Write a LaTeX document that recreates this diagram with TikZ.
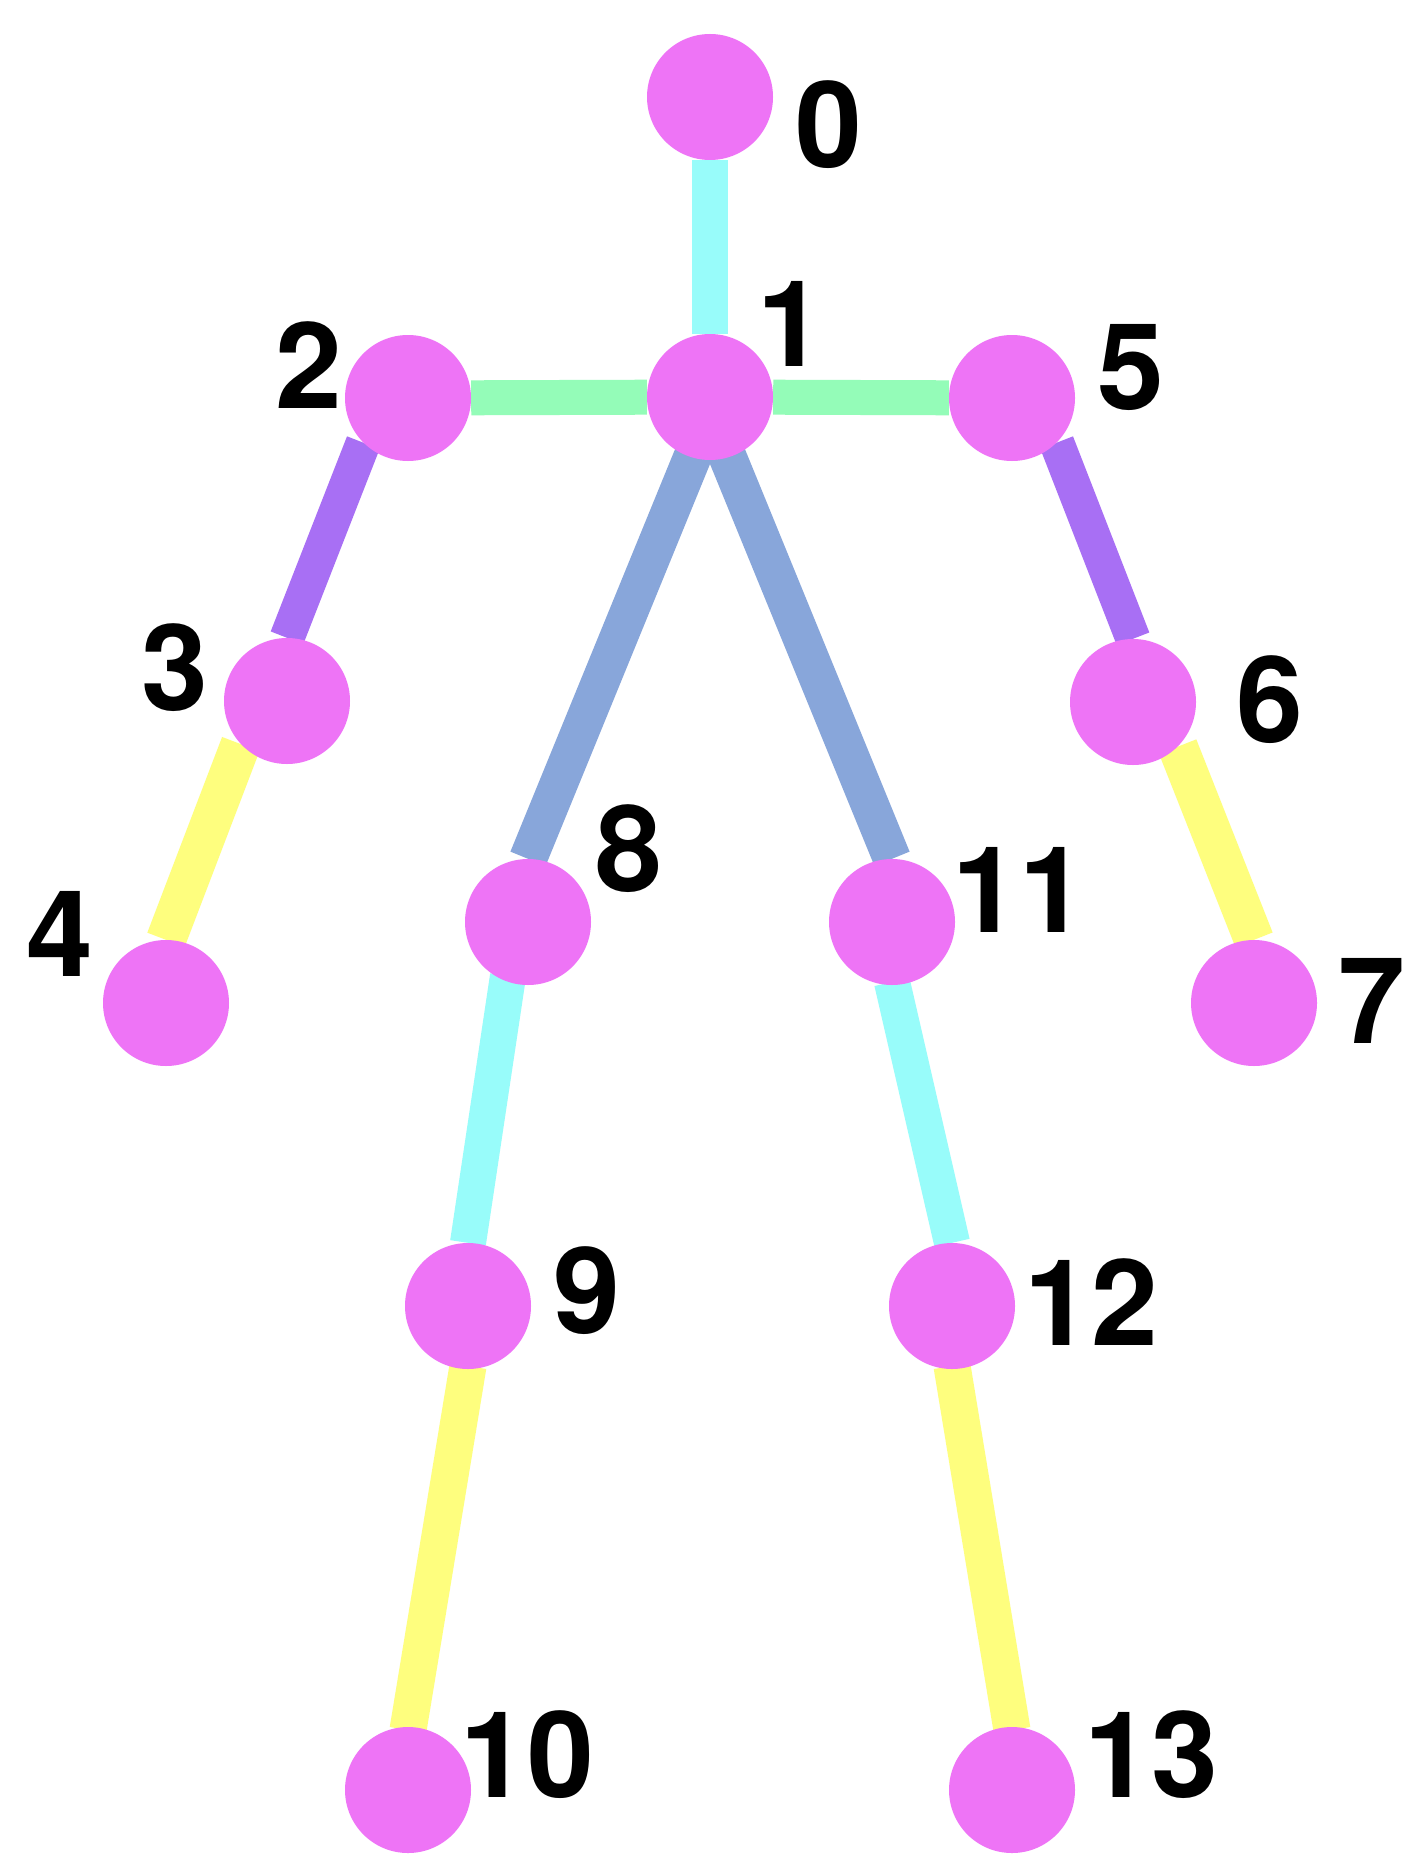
\documentclass[tikz,border=0pt]{standalone}
\usepackage{fontspec}
\setmainfont{TeX Gyre Heros}
\usetikzlibrary{calc}
\definecolor{jointc}{HTML}{EE74F6}
\definecolor{cyanc}{HTML}{98FCFA}
\definecolor{greenc}{HTML}{94FCB8}
\definecolor{purplec}{HTML}{A86FF4}
\definecolor{bluec}{HTML}{88A6DA}
\definecolor{yellowc}{HTML}{FEFE7E}
\pgfdeclarelayer{back}
\pgfdeclarelayer{bg}
\pgfsetlayers{back,bg,main}
\begin{document}
\begin{tikzpicture}[x=1pt,y=-1pt,
  joint/.style={circle,fill=jointc,minimum size=126pt,inner sep=0pt},
  lbl/.style={inner sep=0pt,font=\fontsize{120}{120}\selectfont\bfseries},
  bone/.style={line width=36pt,line cap=butt},
  bcyan/.style={bone,draw=cyanc},
  bgreen/.style={bone,draw=greenc,line width=35pt},
  bpurple/.style={bone,draw=purplec,line width=35pt},
  bblue/.style={bone,draw=bluec,line width=38pt},
  byellow/.style={bone,draw=yellowc,line width=37pt},
  byellowarm/.style={bone,draw=yellowc,line width=40pt}]
\begin{pgfonlayer}{back}
\fill[white] (0,0) rectangle (1415,1870);
\end{pgfonlayer}
\useasboundingbox (0,0) rectangle (1415,1870);
% joints
\node[joint] (n0) at (710,97) {};
\node[joint] (n1) at (710,397) {};
\node[joint] (n2) at (408,398) {};
\node[joint] (n5) at (1012,398) {};
\node[joint] (n3) at (287,701) {};
\node[joint] (n6) at (1133,702) {};
\node[joint] (n4) at (166,1003) {};
\node[joint] (n7) at (1254,1003) {};
\node[joint] (n8) at (528,922) {};
\node[joint] (n11) at (892,922) {};
\node[joint] (n9) at (468,1306) {};
\node[joint] (n12) at (952,1306) {};
\node[joint] (n10) at (408,1790) {};
\node[joint] (n13) at (1012,1790) {};
% labels
\node[lbl] (l0) at (829,125) {0};
\node[lbl] (l1) at (791,324) {1};
\node[lbl] (l2) at (309,365) {2};
\node[lbl] (l5) at (1131,367) {5};
\node[lbl] (l3) at (175,668) {3};
\node[lbl] (l6) at (1270,700) {6};
\node[lbl] (l4) at (60,934) {4};
\node[lbl] (l7) at (1372,1001) {7};
\node[lbl] (l8) at (629,849) {8};
\node[lbl] (l11) at (1019,890) {11};
\node[lbl] (l9) at (587,1291) {9};
\node[lbl] (l12) at (1091,1302) {12};
\node[lbl] (l10) at (527,1755) {10};
\node[lbl] (l13) at (1151,1755) {13};
% bones
\begin{pgfonlayer}{bg}
\draw[bcyan] (n0) -- (n1);
\draw[bgreen] (n1) -- (n2);
\draw[bgreen] (n1) -- (n5);
\draw[bpurple] (n2.225) -- (n3.90);
\draw[bpurple] (n5.315) -- (n6.90);
\draw[byellowarm] (n3.223) -- (n4.90);
\draw[byellowarm] (n6.315) -- (n7.90);
\draw[bblue] ($(n1.center)+(-16,56)$) -- (n8.90);
\draw[bblue] ($(n1.center)+(16,56)$) -- (n11.90);
\draw[bcyan] ($(n8.center)+(-20,54)$) -- (n9.90);
\draw[bcyan] ($(n11.center)+(0,60)$) -- (n12.90);
\draw[byellow] ($(n9.center)+(0,60)$) -- ($(n10.center)+(0,-60)$);
\draw[byellow] ($(n12.center)+(0,60)$) -- ($(n13.center)+(0,-60)$);
\end{pgfonlayer}
\end{tikzpicture}
\end{document}
